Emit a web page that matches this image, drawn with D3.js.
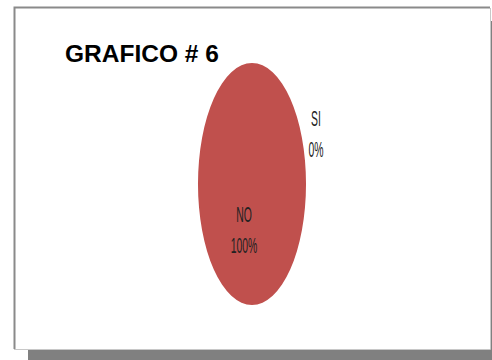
<!DOCTYPE html>
<html><head><meta charset="utf-8">
<script src="https://cdn.jsdelivr.net/npm/d3@7/dist/d3.min.js"></script>
<style>body{margin:0;background:#fff}svg{display:block}</style>
</head><body>
<svg id="c" width="492" height="360"></svg>
<script>
const categories = ["SI", "NO"];
const values = [0, 100];
const percentLabels = ["0%", "100%"];
const title = "GRAFICO # 6";
const colors = ["#4F81BD", "#C0504D"];

const svg = d3.select("#c");
// shadow
svg.append("rect").attr("x", 28).attr("y", 21).attr("width", 464).attr("height", 339).attr("fill", "#808080");
// frame
svg.append("rect").attr("x", 14).attr("y", 7).attr("width", 476).attr("height", 342).attr("fill", "#fff");
svg.append("path").attr("d", "M14.5,349 V7.5 H490").attr("fill", "none").attr("stroke", "#8a8a8a").attr("stroke-width", 2);
svg.append("path").attr("d", "M490.5,8 V349.5 H14").attr("fill", "none").attr("stroke", "#c8c8c8").attr("stroke-width", 1);

svg.append("text").attr("x", 65).attr("y", 62).text(title)
  .attr("font-family", "Liberation Sans, Arial, sans-serif").attr("font-weight", "bold")
  .attr("font-size", 24.5).attr("fill", "#000");

const cx = 252, cy = 184, rx = 54, ry = 121;
const pie = d3.pie().sort(null).value(d => d)(values);
const arc = d3.arc().innerRadius(0).outerRadius(ry);
const g = svg.append("g").attr("transform", `translate(${cx},${cy}) scale(${rx/ry},1)`);
g.selectAll("path").data(pie).join("path")
  .attr("d", arc).attr("fill", (d, i) => colors[i]);

const labelPos = [[316, 126, 157], [244, 222, 253]];
categories.forEach((c, i) => {
  const [x, y1, y2] = labelPos[i];
  [[c, y1], [percentLabels[i], y2]].forEach(([t, y]) => {
    svg.append("text").attr("transform", `translate(${x},${y}) scale(0.8,1.72)`)
      .attr("text-anchor", "middle").attr("font-family", "Liberation Sans, Arial, sans-serif")
      .attr("font-size", 13).attr("fill", "#222").text(t);
  });
});
</script>
</body></html>
